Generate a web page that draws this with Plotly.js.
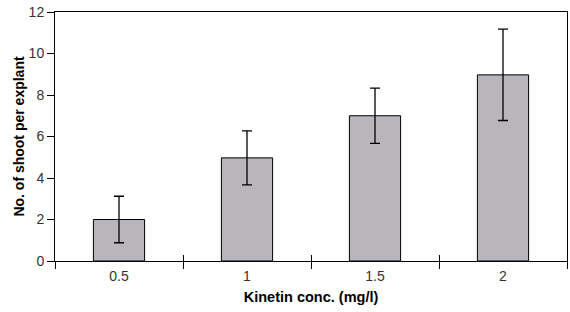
<!DOCTYPE html>
<html><head><meta charset="utf-8">
<script src="https://cdn.plot.ly/plotly-3.0.1.min.js"></script>
<style>html,body{margin:0;padding:0;background:#fff}#c{width:570px;height:312px}</style>
</head><body><div id="c"></div>
<script>
const categories = ['0.5', '1', '1.5', '2'];
const shootsPerExplant = [2, 4.97, 7, 8.97];
const errorValues = [1.12, 1.3, 1.33, 2.2];
const yTickVals = [0, 2, 4, 6, 8, 10, 12];

const trace = {
  type: 'bar', x: categories, y: shootsPerExplant, width: 0.4,
  marker: {color: '#b8b6bb', line: {color: '#000', width: 1}},
  error_y: {type: 'data', array: errorValues, visible: true, color: '#000', thickness: 1.3, width: 5},
  hoverinfo: 'none'
};
const ghost = {type: 'bar', x: categories, y: [0,0,0,0], xaxis: 'x2', yaxis: 'y', showlegend: false, hoverinfo: 'none'};
const tickFont = {family: 'Liberation Sans, Arial, sans-serif', size: 14, color: '#333'};
const layout = {
  width: 570, height: 312,
  margin: {l: 55, r: 3, t: 12, b: 51},
  paper_bgcolor: '#fff', plot_bgcolor: '#fff',
  showlegend: false,
  xaxis: {
    type: 'category', tickson: 'boundaries', ticks: 'outside', ticklen: 7, tickwidth: 1, tickcolor: '#000',
    showline: true, linecolor: '#000', linewidth: 1, mirror: true, showgrid: false,
    tickfont: tickFont, range: [-0.5, 3.5], ticklabelstandoff: 2,
    title: {text: 'Kinetin conc. (mg/l)', font: {family: 'Liberation Sans, Arial, sans-serif', size: 14.5, color: '#000', weight: 'bold'}, standoff: 9}
  },
  xaxis2: {
    type: 'category', overlaying: 'x', tickson: 'boundaries', ticks: 'inside', ticklen: 6, tickwidth: 1, tickcolor: '#000',
    showticklabels: false, showgrid: false, showline: false, range: [-0.5, 3.5], anchor: 'y'
  },
  yaxis: {
    range: [0, 12], tickvals: yTickVals, ticks: 'outside', ticklen: 7, tickwidth: 1, tickcolor: '#000',
    showline: true, linecolor: '#000', linewidth: 1, mirror: true, showgrid: false, zeroline: false,
    tickfont: tickFont,
    title: {text: 'No. of shoot per explant', font: {family: 'Liberation Sans, Arial, sans-serif', size: 14, color: '#000', weight: 'bold'}, standoff: 0}
  }
};
Plotly.newPlot('c', [trace, ghost], layout, {displayModeBar: false, staticPlot: true});
</script></body></html>
